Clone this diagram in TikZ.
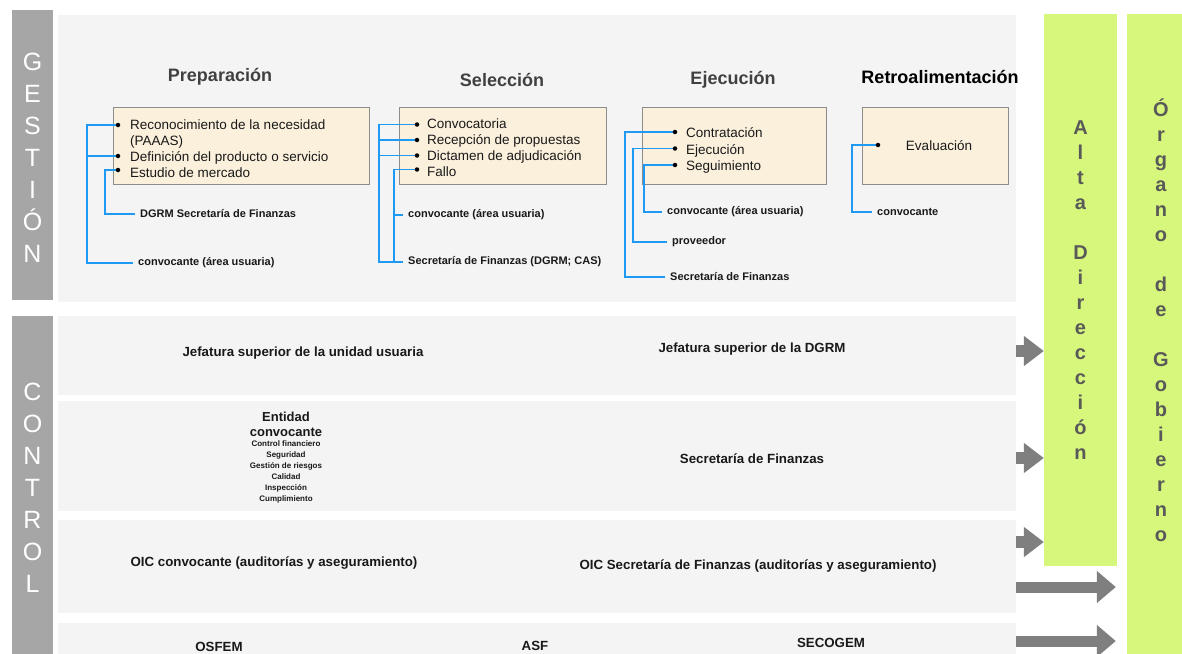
\documentclass[tikz,border=0pt]{standalone}
\usepackage{fontspec}
\setmainfont{Liberation Sans}
\usetikzlibrary{arrows.meta}
\definecolor{panel}{HTML}{F4F4F4}
\definecolor{barg}{HTML}{A6A6A6}
\definecolor{lime}{HTML}{D6F77C}
\definecolor{beige}{HTML}{FAF0DC}
\definecolor{boxline}{HTML}{8C8C8C}
\definecolor{conc}{HTML}{1E9AF5}
\definecolor{arrg}{HTML}{7F7F7F}
\definecolor{headg}{HTML}{404040}
\definecolor{limetxtc}{HTML}{595959}
\tikzset{
 box/.style={draw=boxline, fill=beige, line width=1pt, inner sep=0pt, minimum height=77pt},
 head/.style={font=\fontsize{18}{20}\selectfont\bfseries, text=headg, inner sep=0pt},
 item/.style={font=\fontsize{13.5}{16}\selectfont, anchor=base west, inner sep=0pt, text=black!90},
 bul/.style={circle, fill=black, inner sep=0pt, minimum size=4.5pt},
 lab/.style={font=\fontsize{11}{13}\selectfont\bfseries, anchor=west, inner xsep=5pt, inner ysep=0pt, text=black!90},
 conn/.style={draw=conc, line width=1.2pt},
 rowtxt/.style={font=\fontsize{13.3}{15}\selectfont\bfseries, inner sep=0pt, text=black!90},
 sidetxt/.style={text=white, font=\fontsize{25}{32}\selectfont, align=center, inner sep=0pt},
 limebar/.style={fill=lime, inner sep=0pt},
 limetxt/.style={text=limetxtc, font=\fontsize{20}{25}\selectfont\bfseries, align=center, inner sep=0pt},
 smallarr/.style={draw=arrg, line width=12pt, -{Triangle[width=29pt,length=20pt]}},
 longarr/.style={draw=arrg, line width=11pt, -{Triangle[width=31pt,length=19pt]}},
}
\begin{document}
\begin{tikzpicture}[x=1pt,y=-1pt]
\useasboundingbox (0,0) rectangle (1182,653);
\fill[white] (0,0) rectangle (1182,653);

% side gray bars
\fill[barg] (12,10) rectangle (53,300);
\fill[barg] (12,316) rectangle (53,660);
\node[sidetxt] (gest) at (32.5,158) {G\\E\\S\\T\\I\\Ó\\N};
\node[sidetxt] (ctrl) at (32.5,488) {C\\O\\N\\T\\R\\O\\L};

% panels
\fill[panel] (58,15) rectangle (1016,302);
\fill[panel] (58,316) rectangle (1016,395);
\fill[panel] (58,401) rectangle (1016,511);
\fill[panel] (58,520) rectangle (1016,613);
\fill[panel] (58,623) rectangle (1016,660);

% lime bars
\node[limebar, minimum width=73pt, minimum height=552pt] (alta) at (1080.5,290) {};
\node[limebar, minimum width=68pt, minimum height=646pt] (organo) at (1161,337) {};
\node[limetxt] (altat) at (1080.5,290) {A\\l\\t\\a\\~\\D\\i\\r\\e\\c\\c\\i\\ó\\n};
\node[limetxt] (organot) at (1161,320) {Ó\\r\\g\\a\\n\\o\\~\\d\\e\\~\\G\\o\\b\\i\\e\\r\\n\\o};

% headings
\node[head] (hprep) at (220,77) {Preparación};
\node[head] (hsel) at (502,80) {Selección};
\node[head] (heje) at (733,80) {Ejecución};
\node[head, text=black] (hret) at (940,77) {Retroalimentación};

% boxes
\node[box, minimum width=256pt] (pbox) at (241,145.5) {};
\node[box, minimum width=207pt] (sbox) at (502.5,145.5) {};
\node[box, minimum width=184pt] (ebox) at (734,145.5) {};
\node[box, minimum width=146pt] (rbox) at (935,145.5) {};

% box texts
\node[item] (pt1x) at (130,129.5) {Reconocimiento de la necesidad};
\node[item] (pt2x) at (130,145.5) {(PAAAS)};
\node[item] (pt3x) at (130,161.5) {Definición del producto o servicio};
\node[item] (pt4x) at (130,177.5) {Estudio de mercado};
\node[item] (st1x) at (427,128.5) {Convocatoria};
\node[item] (st2x) at (427,144.5) {Recepción de propuestas};
\node[item] (st3x) at (427,160.5) {Dictamen de adjudicación};
\node[item] (st4x) at (427,176.5) {Fallo};
\node[item] (et1x) at (686,137.5) {Contratación};
\node[item] (et2x) at (686,154.5) {Ejecución};
\node[item] (et3x) at (686,170.5) {Seguimiento};
\node[item, anchor=base] (rt1x) at (939,150.5) {Evaluación};

% bullet positions
\coordinate (pb1) at (118,125);
\coordinate (pb2) at (118,156);
\coordinate (pb3) at (118,170);
\coordinate (sb1) at (417,124.5);
\coordinate (sb2) at (417,140);
\coordinate (sb3) at (417,155.5);
\coordinate (sb4) at (417,169.5);
\coordinate (eb1) at (675,132);
\coordinate (eb2) at (675,148.5);
\coordinate (eb3) at (675,165);
\coordinate (rb1) at (878,145);

% trunks
\coordinate (ptA) at (87,0);
\coordinate (ptB) at (105,0);
\coordinate (stA) at (379,0);
\coordinate (stB) at (394,0);
\coordinate (etA) at (625,0);
\coordinate (etB) at (633,0);
\coordinate (etC) at (644,0);
\coordinate (rtA) at (852,0);

% labels
\node[lab] (plab1) at (133,263) {convocante (área usuaria)};
\node[lab] (plab2) at (135,214) {DGRM Secretaría de Finanzas};
\node[lab] (slab1) at (403,215) {convocante (área usuaria)};
\node[lab] (slab2) at (403,262) {Secretaría de Finanzas (DGRM; CAS)};
\node[lab] (elab1) at (662,212) {convocante (área usuaria)};
\node[lab] (elab2) at (667,242) {proveedor};
\node[lab] (elab3) at (665,277) {Secretaría de Finanzas};
\node[lab] (rlab1) at (872,212) {convocante};

% connectors
\draw[conn] (pb1) -- (pb1 -| ptA) |- (plab1.west);
\draw[conn] (pb2) -- (pb2 -| ptA);
\draw[conn] (pb3) -- (pb3 -| ptB) |- (plab2.west);
\draw[conn] (sb1) -- (sb1 -| stA) |- (slab2.west);
\draw[conn] (sb2) -- (sb2 -| stA);
\draw[conn] (sb3) -- (sb3 -| stA);
\draw[conn] (sb4) -- (sb4 -| stB) |- (slab2.west);
\draw[conn] (sb4 -| stB) |- (slab1.west);
\draw[conn] (eb1) -- (eb1 -| etA) |- (elab3.west);
\draw[conn] (eb2) -- (eb2 -| etB) |- (elab2.west);
\draw[conn] (eb3) -- (eb3 -| etC) |- (elab1.west);
\draw[conn] (rb1) -- (rb1 -| rtA) |- (rlab1.west);

% bullets
\foreach \b in {pb1,pb2,pb3,sb1,sb2,sb3,sb4,eb1,eb2,eb3,rb1}
  \node[bul] (\b d) at (\b) {};

% control texts
\node[rowtxt] (r1a) at (303,353) {Jefatura superior de la unidad usuaria};
\node[rowtxt] (r1b) at (752,349) {Jefatura superior de la DGRM};
\node[rowtxt, align=center, font=\fontsize{13}{15.5}\selectfont\bfseries] (r2a) at (286,424.5) {Entidad\\convocante};
\node[inner sep=0pt, align=center, font=\fontsize{8}{11}\selectfont\bfseries, text=black!90] (r2items) at (286,472) {Control financiero\\Seguridad\\Gestión de riesgos\\Calidad\\Inspección\\Cumplimiento};
\node[rowtxt] (r2b) at (752,459) {Secretaría de Finanzas};
\node[rowtxt] (r3a) at (274,563) {OIC convocante (auditorías y aseguramiento)};
\node[rowtxt] (r3b) at (758,566) {OIC Secretaría de Finanzas (auditorías y aseguramiento)};
\node[rowtxt] (r4a) at (219,647) {OSFEM};
\node[rowtxt] (r4b) at (535,646) {ASF};
\node[rowtxt] (r4c) at (831,643) {SECOGEM};

% arrows
\coordinate (a1) at (1016,351);
\coordinate (a2) at (1016,458);
\coordinate (a3) at (1016,542);
\coordinate (a4) at (1016,587);
\coordinate (a5) at (1016,641);
\draw[smallarr] (a1) -- (a1 -| alta.west);
\draw[smallarr] (a2) -- (a2 -| alta.west);
\draw[smallarr] (a3) -- (a3 -| alta.west);
\draw[longarr] (a4) -- ([xshift=-11pt]a4 -| organo.west);
\draw[longarr] (a5) -- ([xshift=-11pt]a5 -| organo.west);
\end{tikzpicture}
\end{document}
